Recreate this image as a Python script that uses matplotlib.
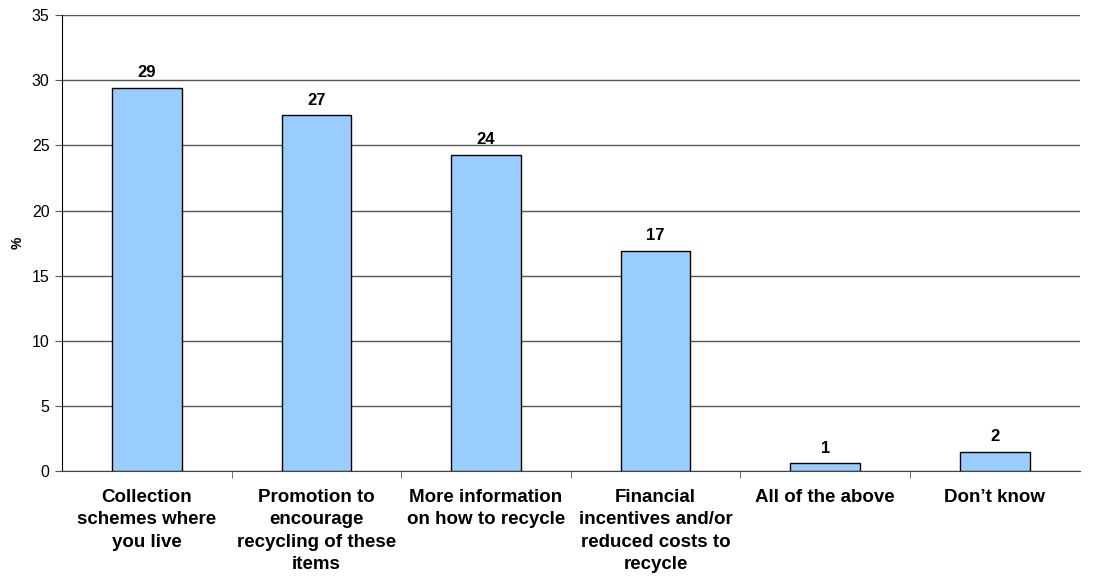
import matplotlib.pyplot as plt
import numpy as np

plt.rcParams['font.family'] = ['Liberation Sans', 'DejaVu Sans']

categories = ['Collection\nschemes where\nyou live',
              'Promotion to\nencourage\nrecycling of these\nitems',
              'More information\non how to recycle',
              'Financial\nincentives and/or\nreduced costs to\nrecycle',
              'All of the above',
              'Don\u2019t know']
values = [29.4, 27.3, 24.3, 16.9, 0.6, 1.5]
labels = ['29', '27', '24', '17', '1', '2']

fig = plt.figure(figsize=(10.95, 5.81), dpi=100)
ax = fig.add_axes([0.0566, 0.189, 0.9294, 0.785])

x = np.arange(len(categories))
bars = ax.bar(x, values, width=0.41, color='#99ccff', edgecolor='black', linewidth=1.0, zorder=3)
for b, lab in zip(bars, labels):
    ax.text(b.get_x() + b.get_width() / 2, b.get_height() + 0.6, lab,
            ha='center', va='bottom', fontsize=12, fontweight='bold')

ax.set_xlim(-0.5, len(categories) - 0.5)
ax.set_ylim(0, 35)
ax.set_yticks(range(0, 36, 5))
ax.yaxis.grid(True, color='#555555', linewidth=1.0, zorder=0)
ax.set_axisbelow(True)

ax.set_xticks(x)
ax.set_xticklabels(categories, fontsize=13.5, fontweight='bold', linespacing=1.4)
ax.tick_params(axis='x', length=0, pad=13)
ax.set_xticks(np.arange(0.5, len(categories) - 0.5), minor=True)
ax.tick_params(axis='x', which='minor', length=5, color='#555555')
ax.tick_params(axis='y', labelsize=11.5, length=5, color='#555555', pad=4)

ax.spines['top'].set_visible(False)
ax.spines['right'].set_visible(False)
ax.spines['left'].set_color('black')
ax.spines['bottom'].set_color('#444444')

ax.set_ylabel('%', fontsize=10, fontweight='bold')
ax.yaxis.set_label_coords(-0.037, 0.5)

fig.savefig('out.png', dpi=100)
